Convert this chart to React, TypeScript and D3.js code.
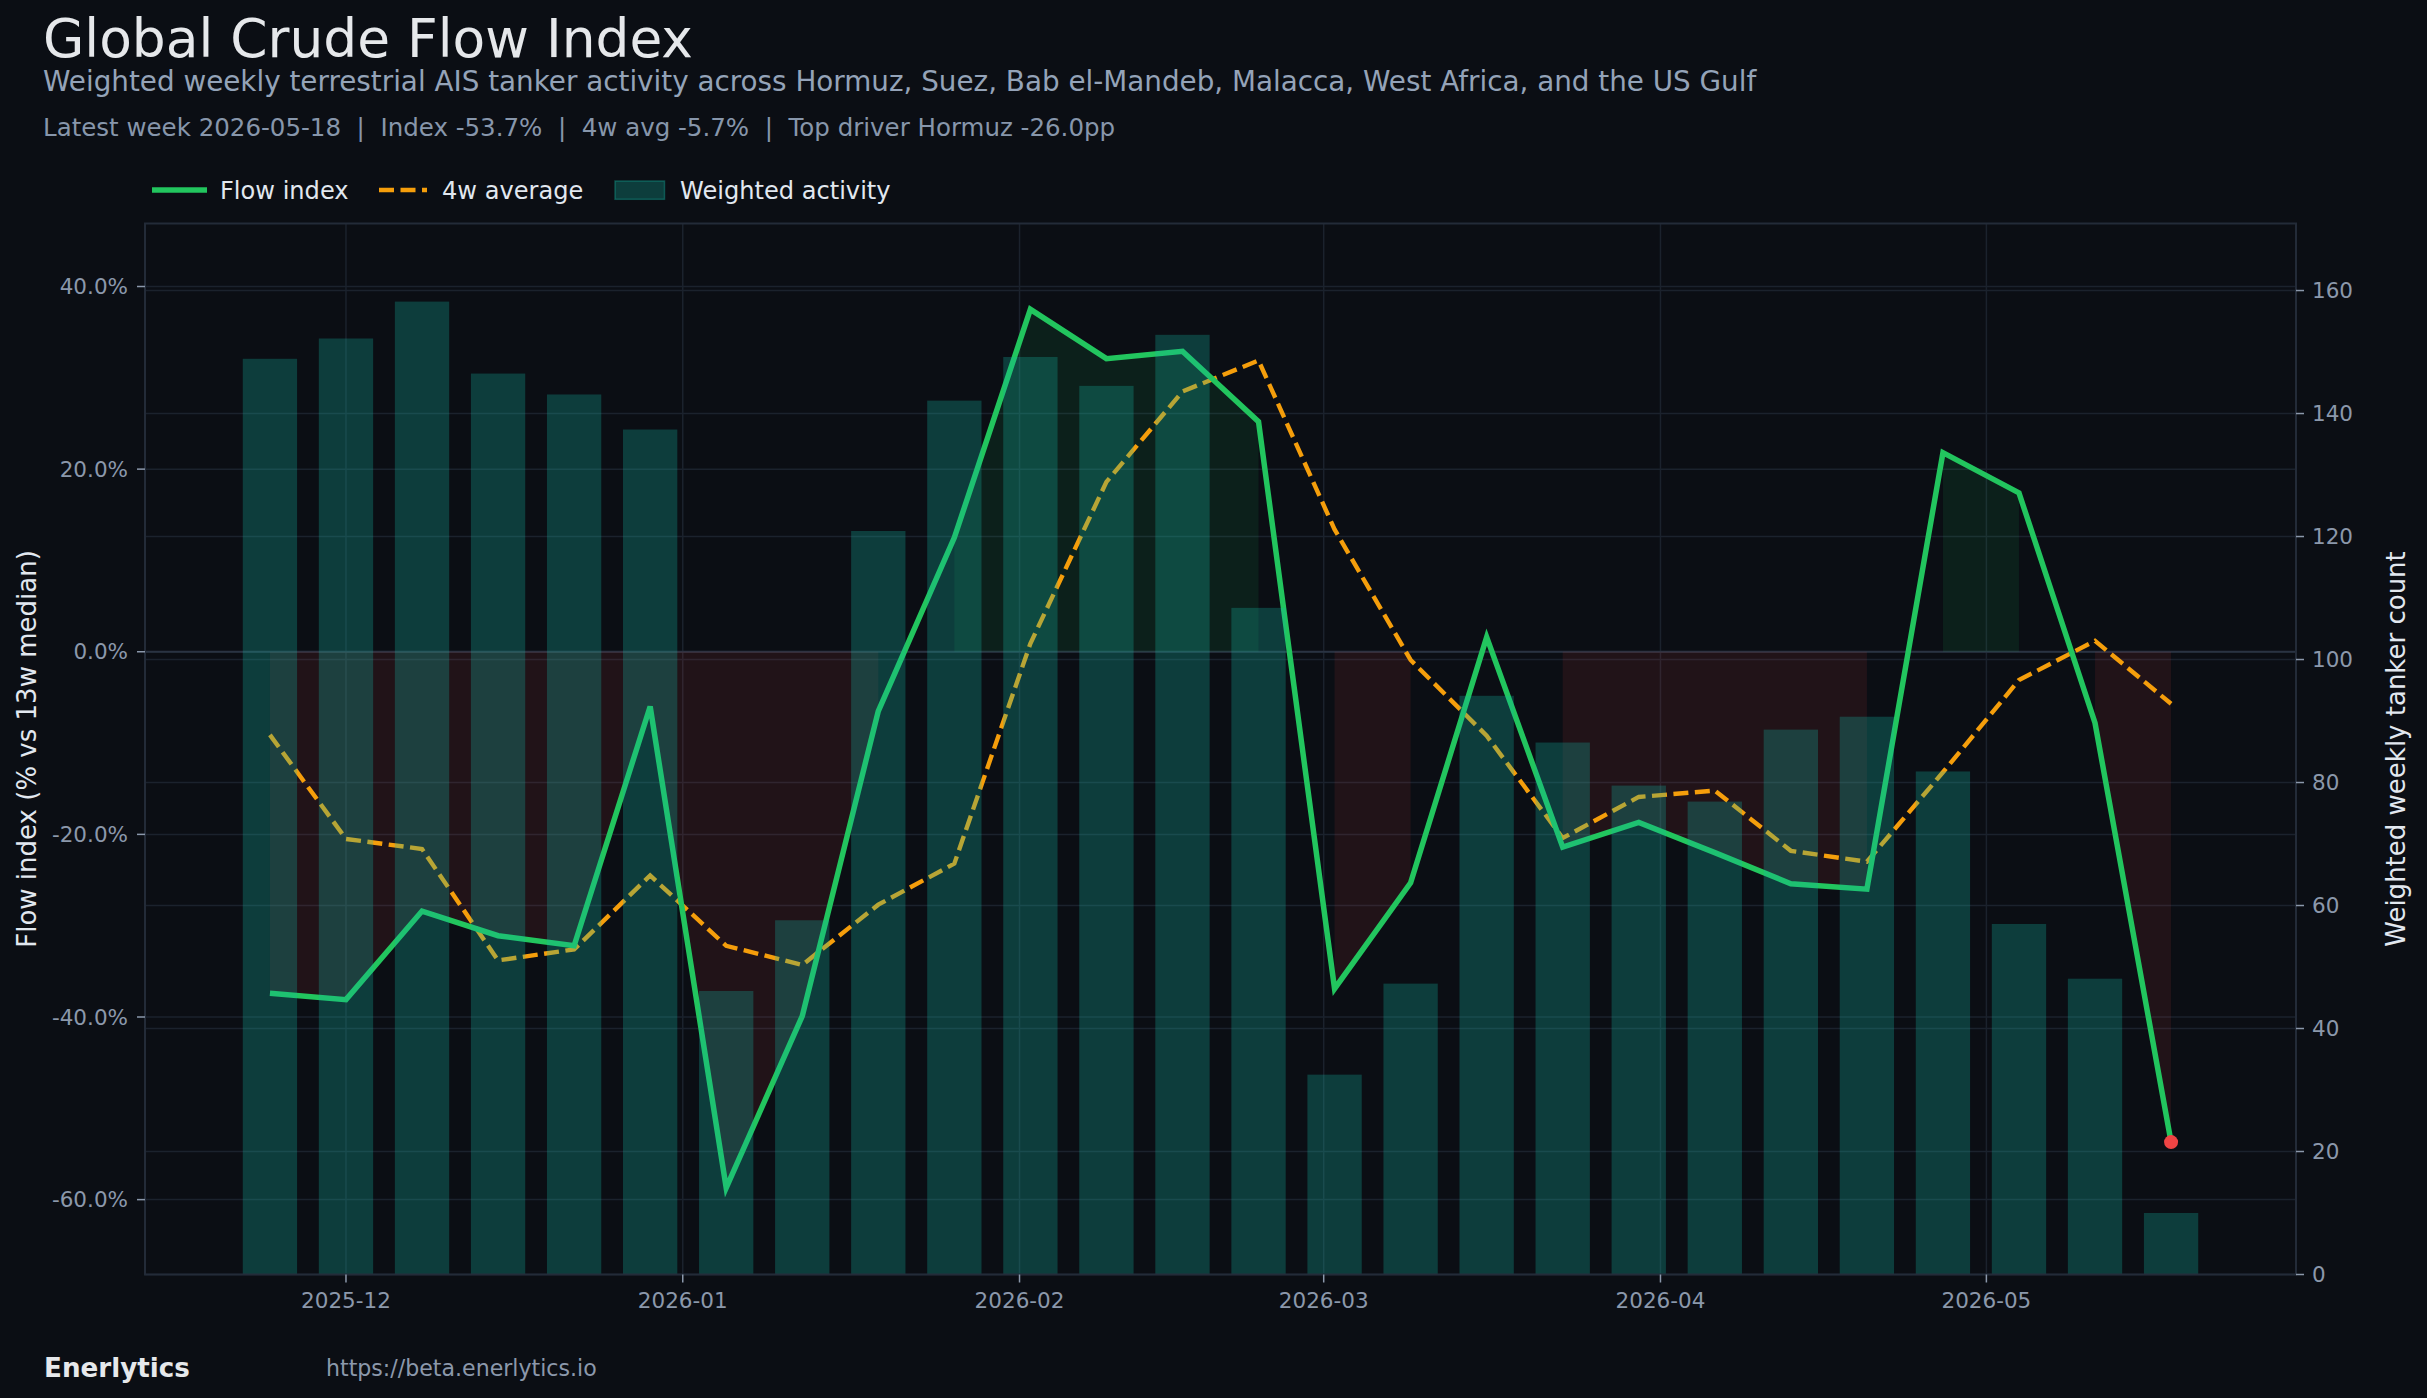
import React from "react";
import * as d3 from "d3";

const W = 2427;
const H = 1398;

const weeks = [
  "2025-11-24", "2025-12-01", "2025-12-08", "2025-12-15", "2025-12-22", "2025-12-29",
  "2026-01-05", "2026-01-12", "2026-01-19", "2026-01-26", "2026-02-02", "2026-02-09",
  "2026-02-16", "2026-02-23", "2026-03-02", "2026-03-09", "2026-03-16", "2026-03-23",
  "2026-03-30", "2026-04-06", "2026-04-13", "2026-04-20", "2026-04-27", "2026-05-04",
  "2026-05-11", "2026-05-18",
];

const flowIndex = [
  -37.4, -38.1, -28.4, -31.1, -32.2, -6.0, -58.7, -39.9, -6.5, 12.5, 37.5, 32.1, 32.9,
  25.2, -36.9, -25.3, 1.6, -21.4, -18.7, -22.0, -25.4, -26.0, 21.8, 17.4, -7.8, -53.7,
];

const avg4w = [
  -9.1, -20.5, -21.6, -33.8, -32.6, -24.5, -32.2, -34.3, -27.7, -23.2, 0.9, 18.6, 28.5,
  31.9, 13.4, -0.9, -9.2, -20.4, -15.9, -15.2, -21.8, -23.0, -13.2, -3.1, 1.2, -5.7,
];

const activity = [
  148.9, 152.2, 158.2, 146.5, 143.1, 137.4, 46.1, 57.6, 120.9, 142.1, 149.2, 144.5, 152.8,
  108.4, 32.5, 47.3, 94.1, 86.5, 79.5, 76.9, 88.6, 90.7, 81.8, 57.0, 48.1, 10.0,
];

const leftTicks = [-60, -40, -20, 0, 20, 40];
const rightTicks = [0, 20, 40, 60, 80, 100, 120, 140, 160];

const titleText = "Global Crude Flow Index";
const subtitleText =
  "Weighted weekly terrestrial AIS tanker activity across Hormuz, Suez, Bab el-Mandeb, Malacca, West Africa, and the US Gulf";
const metaText =
  "Latest week 2026-05-18  |  Index -53.7%  |  4w avg -5.7%  |  Top driver Hormuz -26.0pp";

const FONT = "'DejaVu Sans', Verdana, sans-serif";
const BG = "#0b0e14";
const GREEN = "#22c55e";
const ORANGE = "#f59e0b";
const TEAL = "#14b8a6";
const RED = "#ef4444";
const GRID = "#1b222d";
const TICK = "#8b98ab";

export default function App() {
  const parse = d3.utcParse("%Y-%m-%d");
  const dates = weeks.map((w) => parse(w) as Date);
  const rows = dates.map((d, i) => ({ d, v: flowIndex[i], a: avg4w[i], n: activity[i] }));

  const left = 145;
  const right = 2296;
  const top = 223.5;
  const bottom = 1274.5;

  const x = d3
    .scaleUtc()
    .domain([new Date(Date.UTC(2025, 10, 12, 12)), new Date(Date.UTC(2026, 4, 29, 12))])
    .range([left, right]);
  const yL = d3.scaleLinear().domain([-68.2, 46.9]).range([bottom, top]);
  const yR = d3.scaleLinear().domain([0, 170.9]).range([bottom, top]);

  const monthTicks = x.ticks(d3.utcMonth.every(1) as any);
  const fmt = d3.utcFormat("%Y-%m");
  const dayMs = 24 * 3600 * 1000;
  const barW = x(new Date(dates[0].getTime() + 5 * dayMs)) - x(dates[0]);

  const line = d3
    .line<any>()
    .x((r) => x(r.d))
    .y((r) => yL(r.v));
  const avgLine = d3
    .line<any>()
    .x((r) => x(r.d))
    .y((r) => yL(r.a));
  const posArea = d3
    .area<any>()
    .defined((r) => r.v >= 0)
    .x((r) => x(r.d))
    .y0(yL(0))
    .y1((r) => yL(r.v));
  const negArea = d3
    .area<any>()
    .defined((r) => r.v < 0)
    .x((r) => x(r.d))
    .y0(yL(0))
    .y1((r) => yL(r.v));

  const last = rows[rows.length - 1];

  return (
    <div style={{ position: "absolute", left: 0, top: 0, width: W, height: H, background: BG }}>
      <style>{"body{margin:0;background:" + BG + ";}"}</style>
      <svg width={W} height={H} style={{ display: "block" }} fontFamily={FONT}>
        <rect x={0} y={0} width={W} height={H} fill={BG} />

        {/* Header */}
        <text x={43} y={57} fontSize={53.4} fill="#e6e8eb">
          {titleText}
        </text>
        <text x={43} y={91} fontSize={27.8} fill="#94a3b8">
          {subtitleText}
        </text>
        <text x={43} y={136} fontSize={24.5} fill="#8796ab" style={{ whiteSpace: "pre" }}>
          {metaText}
        </text>

        {/* Legend */}
        <line x1={152} x2={207} y1={190} y2={190} stroke={GREEN} strokeWidth={5.5} />
        <text x={220} y={199} fontSize={24.1} fill="#e2e8f0">
          Flow index
        </text>
        <line
          x1={379}
          x2={427}
          y1={190}
          y2={190}
          stroke={ORANGE}
          strokeWidth={4.4}
          strokeDasharray="15 6.5"
        />
        <text x={442} y={199} fontSize={24.1} fill="#e2e8f0">
          4w average
        </text>
        <rect
          x={615}
          y={181}
          width={49.5}
          height={18.3}
          fill={TEAL}
          fillOpacity={0.28}
          stroke={TEAL}
          strokeOpacity={0.35}
          strokeWidth={1.5}
        />
        <text x={680} y={199} fontSize={24.1} fill="#e2e8f0">
          Weighted activity
        </text>

        {/* Grid */}
        <g>
          {monthTicks.map((t, i) => (
            <line key={"vg" + i} x1={x(t)} x2={x(t)} y1={top} y2={bottom} stroke={GRID} strokeWidth={1.5} />
          ))}
          {leftTicks.map((t) => (
            <line key={"lg" + t} x1={left} x2={right} y1={yL(t)} y2={yL(t)} stroke={GRID} strokeWidth={1.5} />
          ))}
          {rightTicks.map((t) => (
            <line key={"rg" + t} x1={left} x2={right} y1={yR(t)} y2={yR(t)} stroke={GRID} strokeWidth={1.5} />
          ))}
          <line x1={left} x2={right} y1={yL(0)} y2={yL(0)} stroke="#2a3342" strokeWidth={2} />
        </g>

        {/* Fills */}
        <path d={posArea(rows) || ""} fill={GREEN} fillOpacity={0.1} stroke="none" />
        <path d={negArea(rows) || ""} fill={RED} fillOpacity={0.1} stroke="none" />

        {/* Lines */}
        <path d={avgLine(rows) || ""} fill="none" stroke={ORANGE} strokeWidth={4.4} strokeDasharray="15 6.5" />
        <path d={line(rows) || ""} fill="none" stroke={GREEN} strokeWidth={5.5} strokeLinejoin="miter" />
        <circle cx={x(last.d)} cy={yL(last.v)} r={7} fill={RED} />

        {/* Bars (right axis) */}
        <g>
          {rows.map((r, i) => (
            <rect
              key={"b" + i}
              x={x(r.d) - barW / 2}
              y={yR(r.n)}
              width={barW}
              height={yR(0) - yR(r.n)}
              fill={TEAL}
              fillOpacity={0.28}
            />
          ))}
        </g>

        {/* Spines */}
        <rect x={left} y={top} width={right - left} height={bottom - top} fill="none" stroke="#232b38" strokeWidth={2} />

        {/* Left axis */}
        {leftTicks.map((t) => (
          <g key={"lt" + t}>
            <line x1={left - 8} x2={left} y1={yL(t)} y2={yL(t)} stroke={TICK} strokeWidth={1.5} />
            <text x={128} y={yL(t)} dy="0.36em" textAnchor="end" fontSize={21.5} fill={TICK}>
              {t.toFixed(1) + "%"}
            </text>
          </g>
        ))}
        {/* Right axis */}
        {rightTicks.map((t) => (
          <g key={"rt" + t}>
            <line x1={right} x2={right + 8} y1={yR(t)} y2={yR(t)} stroke={TICK} strokeWidth={1.5} />
            <text x={2312} y={yR(t)} dy="0.36em" textAnchor="start" fontSize={21.5} fill={TICK}>
              {String(t)}
            </text>
          </g>
        ))}
        {/* Bottom axis */}
        {monthTicks.map((t, i) => (
          <g key={"xt" + i}>
            <line x1={x(t)} x2={x(t)} y1={bottom} y2={bottom + 8} stroke={TICK} strokeWidth={1.5} />
            <text x={x(t)} y={1308} textAnchor="middle" fontSize={21.5} fill={TICK}>
              {fmt(t)}
            </text>
          </g>
        ))}

        {/* Axis titles */}
        <text
          transform={`translate(36, ${(top + bottom) / 2}) rotate(-90)`}
          textAnchor="middle"
          fontSize={26}
          fill="#e2e8f0"
        >
          Flow index (% vs 13w median)
        </text>
        <text
          transform={`translate(2405, ${(top + bottom) / 2}) rotate(-90)`}
          textAnchor="middle"
          fontSize={26}
          fill="#e2e8f0"
        >
          Weighted weekly tanker count
        </text>

        {/* Footer */}
        <text x={44} y={1377} fontSize={26.2} fontWeight="bold" fill="#e6e8eb">
          Enerlytics
        </text>
        <text x={326} y={1376} fontSize={22.1} fill={TICK}>
          https://beta.enerlytics.io
        </text>
      </svg>
    </div>
  );
}
